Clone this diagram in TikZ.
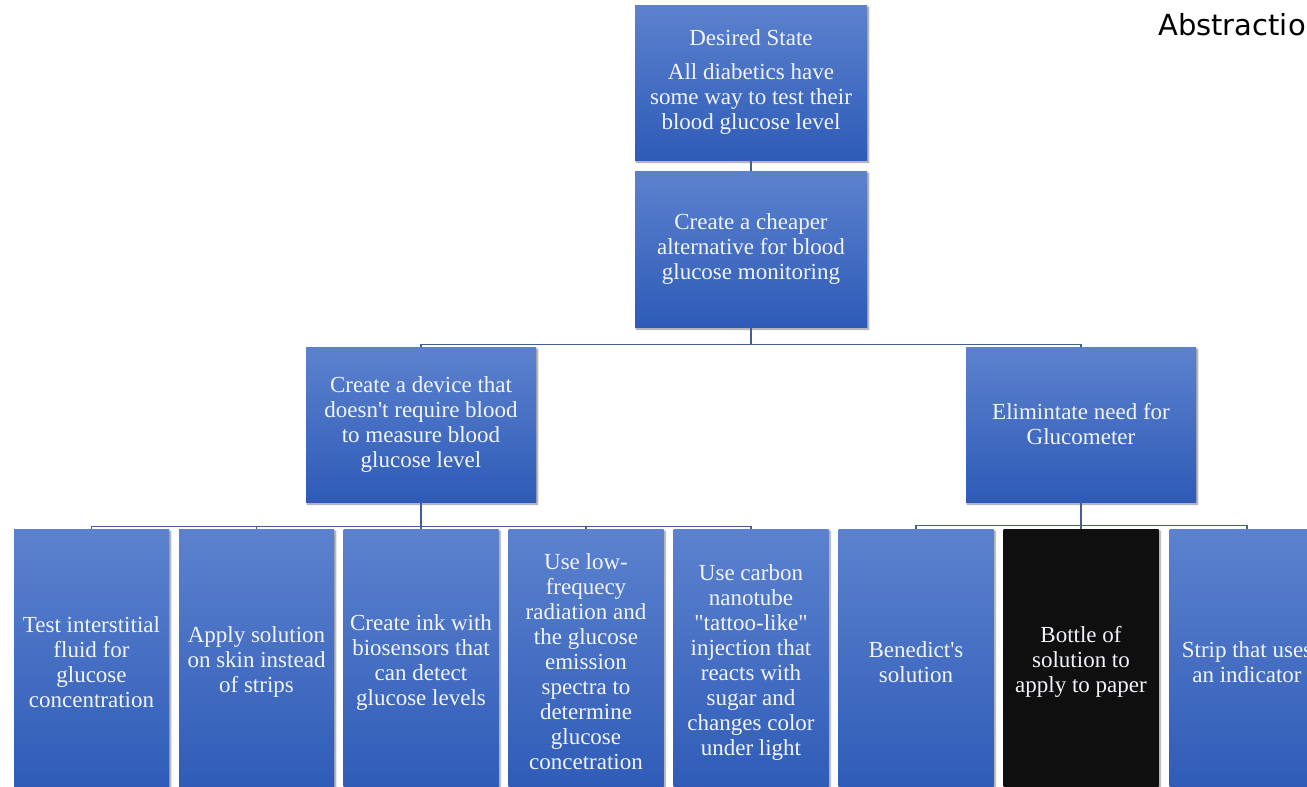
\documentclass[tikz,border=0pt]{standalone}
\usepackage{fontspec}
\newfontfamily\boxfont{Liberation Serif}
\newfontfamily\labelfont{DejaVu Sans}
\usetikzlibrary{shadows.blur}

\definecolor{boxtop}{RGB}{92,130,206}
\definecolor{boxbot}{RGB}{46,91,183}
\definecolor{linkcol}{RGB}{70,94,145}
\definecolor{txtcol}{RGB}{242,244,250}

\tikzset{
  goalbox/.style={rectangle, inner sep=0pt, top color=boxtop, bottom color=boxbot,
    text=txtcol, align=center, font=\boxfont\fontsize{23}{25}\selectfont,
    blur shadow={shadow xshift=1.5pt, shadow yshift=-2pt, shadow opacity=45, shadow blur steps=6}},
  leafbox/.style={goalbox, minimum width=155pt, minimum height=266pt},
  darkbox/.style={leafbox, top color=black!94, bottom color=black!94},
  link/.style={draw=linkcol, line width=1.1pt}
}

\begin{document}
\begin{tikzpicture}[x=1pt,y=-1pt]
\useasboundingbox (0,0) rectangle (1307,787);
\clip (0,0) rectangle (1307,787);

% top of the tree
\node[goalbox, minimum width=232pt, minimum height=155pt] (desired) at (751,82.5)
  {Desired State\\[9pt]All diabetics have\\some way to test their\\blood glucose level};
\node[goalbox, minimum width=232pt, minimum height=156pt] (cheaper) at (751,249)
  {Create a cheaper\\alternative for blood\\glucose monitoring};

% second level
\node[goalbox, minimum width=230pt, minimum height=155pt] (noblood) at (421,424.5)
  {Create a device that\\doesn't require blood\\to measure blood\\glucose level};
\node[goalbox, minimum width=230pt, minimum height=155pt] (nometer) at (1081,424.5)
  {Elimintate need for\\Glucometer};

% leaves
\node[leafbox] (interst) at (91.5,662) {Test interstitial\\fluid for\\glucose\\concentration};
\node[leafbox] (skin) at (256.5,662) {Apply solution\\on skin instead\\of strips};
\node[leafbox] (ink) at (421,662) {Create ink with\\biosensors that\\can detect\\glucose levels};
\node[leafbox] (radiat) at (586,662) {Use low-\\frequecy\\radiation and\\the glucose\\emission\\spectra to\\determine\\glucose\\concetration};
\node[leafbox] (carbon) at (751,662) {Use carbon\\nanotube\\"tattoo-like"\\injection that\\reacts with\\sugar and\\changes color\\under light};
\node[leafbox] (benedict) at (916,662) {Benedict's\\solution};
\node[darkbox] (bottle) at (1081,662) {Bottle of\\solution to\\apply to paper};
\node[leafbox] (indicator) at (1247,662) {Strip that uses\\an indicator};

\node[font=\labelfont\fontsize{29}{32}\selectfont, anchor=base west, inner sep=0pt] (abstr) at (1158,35) {Abstraction};

% connectors
\draw[link] (desired) -- (cheaper);
\draw[link] (cheaper.south) -- ++(0,17) -| (noblood.north);
\draw[link] (cheaper.south) -- ++(0,17) -| (nometer.north);
\foreach \n in {interst,skin,ink,radiat,carbon}
  \draw[link] (noblood.south) -- ++(0,24) -| (\n.north);
\foreach \n in {benedict,bottle,indicator}
  \draw[link] (nometer.south) -- ++(0,23) -| (\n.north);
\end{tikzpicture}
\end{document}
